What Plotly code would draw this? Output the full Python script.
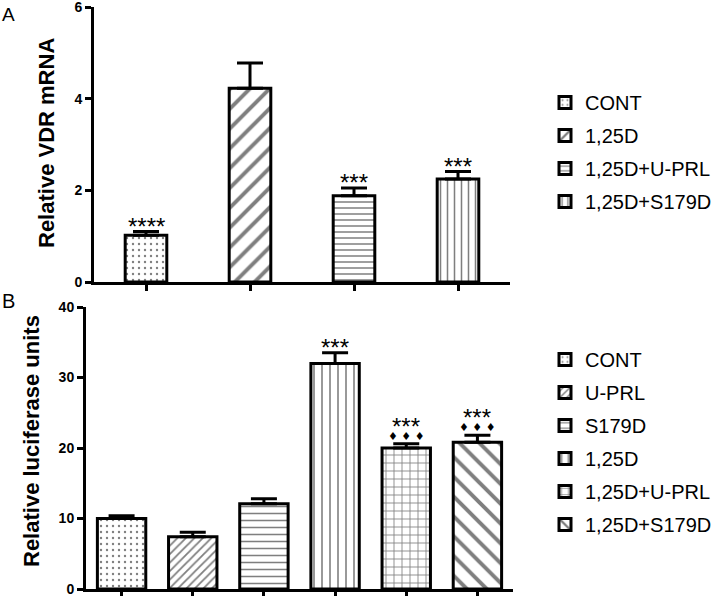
import plotly.graph_objects as go

# ---------------- data ----------------
top_categories = ["CONT", "1,25D", "1,25D+U-PRL", "1,25D+S179D"]
top_values = [1.02, 4.23, 1.88, 2.25]
top_errors = [0.08, 0.55, 0.17, 0.16]
top_stars = ["****", "", "***", "***"]
top_patterns = [".", "/", "-", "|"]
top_pattern_sizes = [6, 14, 6, 7]
top_pattern_solidity = [0.12, 0.28, 0.25, 0.22]

bot_categories = ["CONT", "U-PRL", "S179D", "1,25D", "1,25D+U-PRL", "1,25D+S179D"]
bot_values = [10.0, 7.4, 12.1, 32.0, 20.0, 20.8]
bot_errors = [0.4, 0.65, 0.7, 1.5, 0.6, 1.0]
bot_stars = ["", "", "", "***", "***", "***"]
bot_diamonds = ["", "", "", "", "♦ ♦ ♦", "♦ ♦ ♦"]
bot_patterns = [".", "/", "-", "|", "+", "\\"]
bot_pattern_sizes = [6, 6, 7, 8, 8, 14]
bot_pattern_solidity = [0.12, 0.3, 0.22, 0.2, 0.2, 0.28]

top_yticks = [0, 2, 4, 6]
bot_yticks = [0, 10, 20, 30, 40]

FONT = "Liberation Sans, Arial, sans-serif"
W, H = 720, 596

fig = go.Figure()

for i, cat in enumerate(top_categories):
    fig.add_trace(go.Bar(
        x=[cat], y=[top_values[i]], name=cat, width=0.4,
        xaxis="x", yaxis="y", legend="legend", legendgroup="t" + cat,
        marker=dict(color="white", line=dict(color="black", width=3),
                    pattern=dict(shape=top_patterns[i], fgcolor="black", bgcolor="white",
                                 size=top_pattern_sizes[i], solidity=top_pattern_solidity[i],
                                 fillmode="overlay")),
        error_y=dict(type="data", array=[top_errors[i]], arrayminus=[0], symmetric=False,
                     color="black", thickness=3, width=13),
    ))

for i, cat in enumerate(bot_categories):
    fig.add_trace(go.Bar(
        x=[cat], y=[bot_values[i]], name=cat, width=0.68,
        xaxis="x2", yaxis="y2", legend="legend2", legendgroup="b" + cat,
        marker=dict(color="white", line=dict(color="black", width=3),
                    pattern=dict(shape=bot_patterns[i], fgcolor="black", bgcolor="white",
                                 size=bot_pattern_sizes[i], solidity=bot_pattern_solidity[i],
                                 fillmode="overlay")),
        error_y=dict(type="data", array=[bot_errors[i]], arrayminus=[0], symmetric=False,
                     color="black", thickness=3, width=13),
    ))

STAR_FONT = dict(family=FONT, size=24, color="black")
annotations = []
for i, cat in enumerate(top_categories):
    if top_stars[i]:
        annotations.append(dict(x=cat, y=top_values[i] + top_errors[i], xref="x", yref="y",
                                text=top_stars[i], showarrow=False, yanchor="bottom",
                                xanchor="center", yshift=-10, font=STAR_FONT))
for i, cat in enumerate(bot_categories):
    shift = -10
    if bot_diamonds[i]:
        annotations.append(dict(x=cat, y=bot_values[i] + bot_errors[i], xref="x2", yref="y2",
                                text=bot_diamonds[i], showarrow=False, yanchor="bottom",
                                xanchor="center", yshift=-1,
                                font=dict(family="DejaVu Sans", size=11, color="black")))
        shift = 2
    if bot_stars[i]:
        annotations.append(dict(x=cat, y=bot_values[i] + bot_errors[i], xref="x2", yref="y2",
                                text=bot_stars[i], showarrow=False, yanchor="bottom",
                                xanchor="center", yshift=shift, font=STAR_FONT))

# axis titles and panel letters
annotations += [
    dict(x=47 / W, y=1 - 143 / H, xref="paper", yref="paper", text="<b>Relative VDR mRNA</b>",
         textangle=-90, showarrow=False, xanchor="center", yanchor="middle",
         font=dict(family=FONT, size=22, color="black")),
    dict(x=31 / W, y=1 - 441 / H, xref="paper", yref="paper", text="<b>Relative luciferase units</b>",
         textangle=-90, showarrow=False, xanchor="center", yanchor="middle",
         font=dict(family=FONT, size=22, color="black")),
    dict(x=0, y=1 - 2 / H, xref="paper", yref="paper", text="A", xanchor="left", yanchor="top",
         showarrow=False, font=dict(family=FONT, size=19, color="black")),
    dict(x=0, y=1 - 288 / H, xref="paper", yref="paper", text="B", xanchor="left", yanchor="top",
         showarrow=False, font=dict(family=FONT, size=20, color="black")),
]

axis_common = dict(showline=True, linecolor="black", linewidth=3, ticks="outside",
                   tickcolor="black", tickwidth=3, ticklen=6, showgrid=False, zeroline=False,
                   automargin=False)

fig.update_layout(
    width=W, height=H, margin=dict(l=0, r=0, t=0, b=0),
    plot_bgcolor="white", paper_bgcolor="white",
    font=dict(family=FONT, color="black"),
    barmode="overlay",
    xaxis=dict(domain=[94 / W, 510 / W], anchor="y", range=[-0.5, 3.5], showticklabels=False,
               categoryorder="array", categoryarray=top_categories, **axis_common),
    yaxis=dict(domain=[1 - 282 / H, 1 - 7 / H], anchor="x", range=[0, 6], tickvals=top_yticks,
               ticklabeloverflow="allow",
               tickfont=dict(family=FONT, size=14, weight="bold", color="black"), **axis_common),
    xaxis2=dict(domain=[86 / W, 513 / W], anchor="y2", range=[-0.5, 5.5], showticklabels=False,
                categoryorder="array", categoryarray=bot_categories, **axis_common),
    yaxis2=dict(domain=[1 - 589 / H, 1 - 307 / H], anchor="x2", range=[0, 40], tickvals=bot_yticks,
                ticklabeloverflow="allow",
                tickfont=dict(family=FONT, size=14, weight="bold", color="black"), **axis_common),
    legend=dict(x=545 / W, y=1 - 83 / H, xanchor="left", yanchor="top", tracegroupgap=4,
                font=dict(family=FONT, size=20, color="black"), bgcolor="rgba(0,0,0,0)"),
    legend2=dict(x=545 / W, y=1 - 340 / H, xanchor="left", yanchor="top", tracegroupgap=4,
                 font=dict(family=FONT, size=20, color="black"), bgcolor="rgba(0,0,0,0)"),
    annotations=annotations,
    showlegend=True,
)

fig.write_html("out.html", config={"displayModeBar": False},
               post_script="document.body.style.margin='0';")
